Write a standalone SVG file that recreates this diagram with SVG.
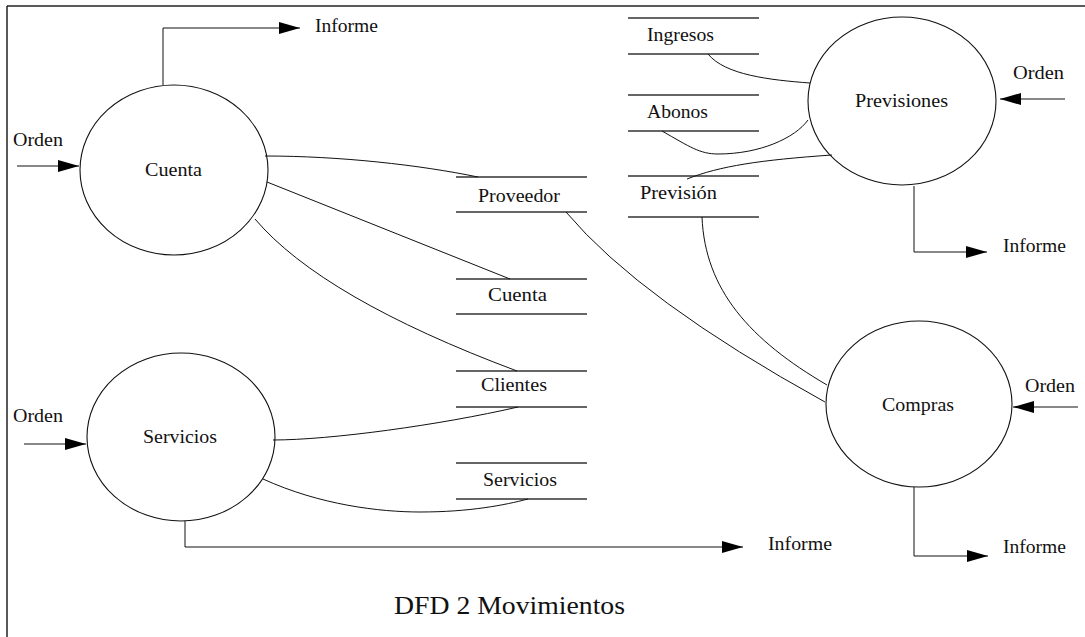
<svg xmlns="http://www.w3.org/2000/svg" width="1085" height="637" viewBox="0 0 1085 637">
  <style>
    .bubble { fill: none; stroke: #111; stroke-width: 1.1; }
    .store { stroke: #333; stroke-width: 1.3; }
    .flow { fill: none; stroke: #111; stroke-width: 1; }
    .frame { stroke: #222; stroke-width: 1.5; }
    text { font-family: "Liberation Serif", "Times New Roman", serif; font-size: 19px; fill: #111; }
    .title { font-size: 26px; }
  </style>
  <defs>
    <marker id="arrow" markerUnits="userSpaceOnUse" viewBox="0 0 21 12" refX="21" refY="6" markerWidth="21" markerHeight="12" orient="auto">
      <path d="M0,0 L21,6 L0,12 z" fill="#000"/>
    </marker>
  </defs>

  <rect width="1085" height="637" fill="#fff"/>

  <!-- page frame: top and left edges only -->
  <line class="frame" x1="7" y1="6" x2="1085" y2="6"/>
  <line class="frame" x1="7" y1="6" x2="7" y2="637"/>

  <!-- processes -->
  <g id="proc-cuenta">
    <ellipse class="bubble" cx="174" cy="170" rx="94" ry="85"/>
    <text x="145" y="176" textLength="57" lengthAdjust="spacingAndGlyphs">Cuenta</text>
  </g>
  <g id="proc-servicios">
    <ellipse class="bubble" cx="181" cy="437" rx="94" ry="84"/>
    <text x="143" y="443" textLength="74" lengthAdjust="spacingAndGlyphs">Servicios</text>
  </g>
  <g id="proc-previsiones">
    <ellipse class="bubble" cx="902" cy="101" rx="94" ry="84"/>
    <text x="855" y="107" textLength="93" lengthAdjust="spacingAndGlyphs">Previsiones</text>
  </g>
  <g id="proc-compras">
    <ellipse class="bubble" cx="919" cy="404" rx="93" ry="83"/>
    <text x="882" y="411" textLength="72" lengthAdjust="spacingAndGlyphs">Compras</text>
  </g>

  <!-- data stores -->
  <g id="store-proveedor">
    <line class="store" x1="456" y1="177" x2="587" y2="177"/>
    <line class="store" x1="456" y1="212" x2="587" y2="212"/>
    <text x="478" y="202" textLength="82" lengthAdjust="spacingAndGlyphs">Proveedor</text>
  </g>
  <g id="store-cuenta">
    <line class="store" x1="456" y1="279" x2="587" y2="279"/>
    <line class="store" x1="456" y1="314" x2="587" y2="314"/>
    <text x="488" y="301" textLength="59" lengthAdjust="spacingAndGlyphs">Cuenta</text>
  </g>
  <g id="store-clientes">
    <line class="store" x1="456" y1="371" x2="587" y2="371"/>
    <line class="store" x1="456" y1="407" x2="587" y2="407"/>
    <text x="481" y="391" textLength="66" lengthAdjust="spacingAndGlyphs">Clientes</text>
  </g>
  <g id="store-servicios">
    <line class="store" x1="456" y1="463" x2="587" y2="463"/>
    <line class="store" x1="456" y1="499" x2="587" y2="499"/>
    <text x="483" y="486" textLength="74" lengthAdjust="spacingAndGlyphs">Servicios</text>
  </g>
  <g id="store-ingresos">
    <line class="store" x1="628" y1="18" x2="759" y2="18"/>
    <line class="store" x1="628" y1="54" x2="759" y2="54"/>
    <text x="647" y="41" textLength="67" lengthAdjust="spacingAndGlyphs">Ingresos</text>
  </g>
  <g id="store-abonos">
    <line class="store" x1="628" y1="95" x2="759" y2="95"/>
    <line class="store" x1="628" y1="131" x2="759" y2="131"/>
    <text x="647" y="118" textLength="61" lengthAdjust="spacingAndGlyphs">Abonos</text>
  </g>
  <g id="store-prevision">
    <line class="store" x1="628" y1="176" x2="759" y2="176"/>
    <line class="store" x1="628" y1="217" x2="759" y2="217"/>
    <text x="640" y="199" textLength="77" lengthAdjust="spacingAndGlyphs">Previsión</text>
  </g>

  <!-- external flows (labels) -->
  <g id="labels">
    <text x="315" y="32" textLength="63" lengthAdjust="spacingAndGlyphs">Informe</text>
    <text x="13" y="146" textLength="50" lengthAdjust="spacingAndGlyphs">Orden</text>
    <text x="13" y="422" textLength="50" lengthAdjust="spacingAndGlyphs">Orden</text>
    <text x="768" y="550" textLength="64" lengthAdjust="spacingAndGlyphs">Informe</text>
    <text x="1013" y="79" textLength="51" lengthAdjust="spacingAndGlyphs">Orden</text>
    <text x="1003" y="252" textLength="63" lengthAdjust="spacingAndGlyphs">Informe</text>
    <text x="1025" y="392" textLength="50" lengthAdjust="spacingAndGlyphs">Orden</text>
    <text x="1003" y="553" textLength="63" lengthAdjust="spacingAndGlyphs">Informe</text>
    <text class="title" x="394" y="614" textLength="231" lengthAdjust="spacingAndGlyphs">DFD 2 Movimientos</text>
  </g>

  <!-- connectors -->
  <g id="connectors">
    <!-- arrows in and out -->
    <polyline class="flow" points="163,85 163,28 300,28" marker-end="url(#arrow)"/>
    <line class="flow" x1="17" y1="166" x2="79" y2="166" marker-end="url(#arrow)"/>
    <line class="flow" x1="24" y1="444" x2="86" y2="444" marker-end="url(#arrow)"/>
    <polyline class="flow" points="185,521 185,547 743,547" marker-end="url(#arrow)"/>
    <line class="flow" x1="1065" y1="99" x2="1000" y2="99" marker-end="url(#arrow)"/>
    <polyline class="flow" points="914,186 914,252 987,252" marker-end="url(#arrow)"/>
    <line class="flow" x1="1078" y1="407" x2="1013" y2="407" marker-end="url(#arrow)"/>
    <polyline class="flow" points="914,487 914,556 988,556" marker-end="url(#arrow)"/>

    <!-- Cuenta process to stores -->
    <path class="flow" d="M265,156 C340,156 420,165 478,177"/>
    <line class="flow" x1="267" y1="182" x2="510" y2="279"/>
    <path class="flow" d="M255,219 Q322,298 517,371"/>

    <!-- Servicios process to stores -->
    <path class="flow" d="M273,440 C330,440 440,425 518,407"/>
    <path class="flow" d="M263,479 C320,505 380,512 420,512 C470,512 505,505 528,499"/>

    <!-- Previsiones to stores -->
    <path class="flow" d="M708,54 C725,75 770,80 810,83"/>
    <path class="flow" d="M662,131 C690,147 700,154 718,154 C760,154 795,138 808,120"/>
    <path class="flow" d="M687,179 C720,166 760,160 832,155"/>

    <!-- Compras to stores -->
    <path class="flow" d="M566,212 Q640,300 825,402"/>
    <path class="flow" d="M702,217 C705,290 750,340 827,385"/>
  </g>
</svg>
